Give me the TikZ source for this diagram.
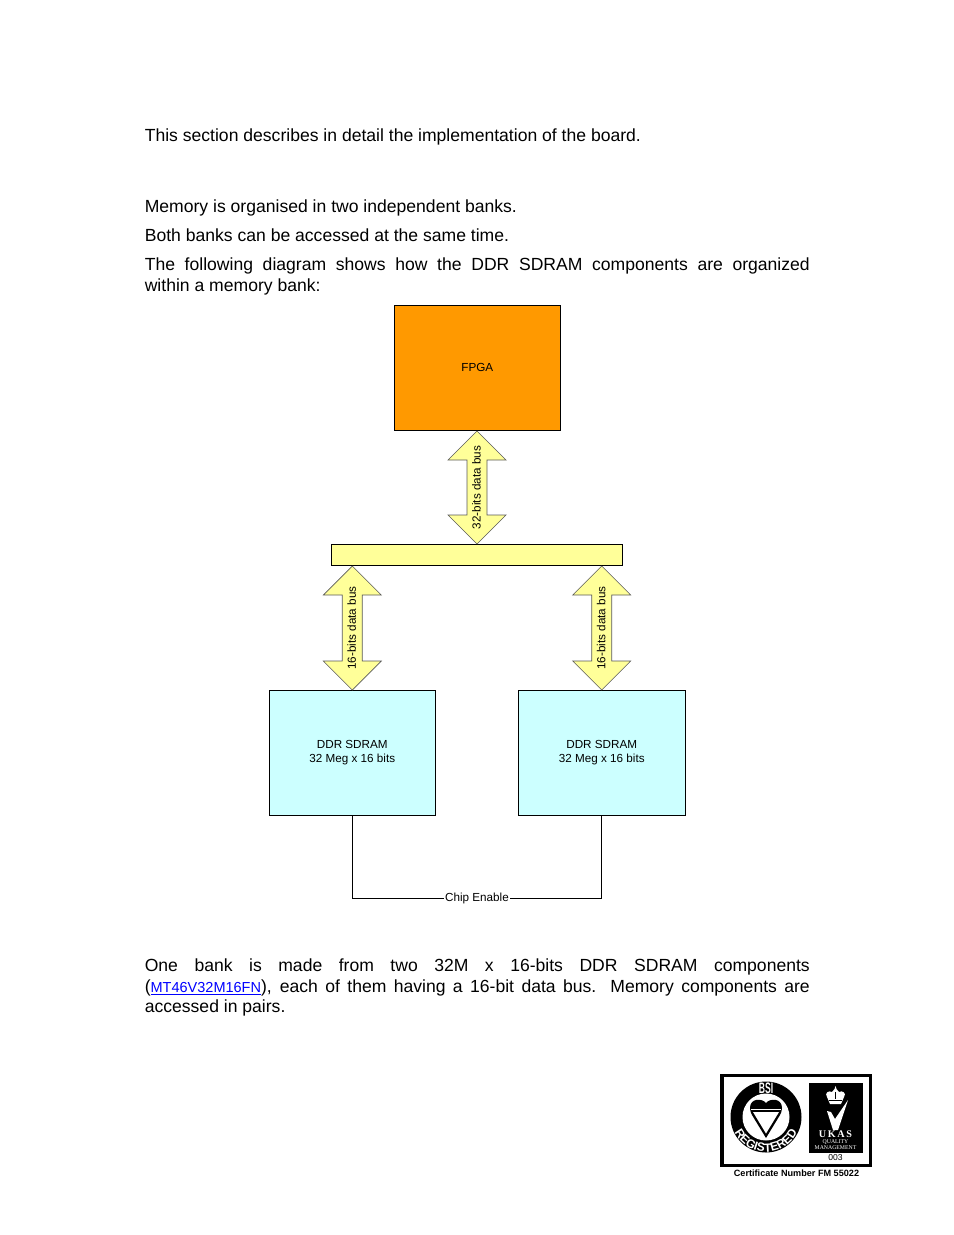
\documentclass[tikz,border=0pt]{standalone}
\usepackage{fontspec}
\setmainfont{Liberation Sans}
\newfontfamily\logoserif{Liberation Serif}
\usetikzlibrary{decorations.text}
\definecolor{fpgaorange}{HTML}{FF9900}
\definecolor{busyellow}{HTML}{FFFF99}
\definecolor{ddrcyan}{HTML}{CCFFFF}
\definecolor{linkblue}{HTML}{0000FF}
\tikzset{
  x=0.6415pt,y=-0.6415pt,
  bodytext/.style={anchor=north west,inner sep=0pt,text width=426.6pt,align=justify,font=\fontsize{11.27}{13.45}\selectfont},
  blockbox/.style={draw=black,line width=0.55pt,anchor=north west,inner sep=0pt,align=center,font=\fontsize{7.5}{9}\selectfont},
  buslabel/.style={rotate=90,inner sep=0pt,font=\fontsize{7.5}{9}\selectfont},
  cetext/.style={inner sep=0.6pt,font=\fontsize{7.5}{9}\selectfont},
  whitefill/.style={fill=white,draw=none}
}
% x centre, top tip, bottom tip, node name, label
\newcommand{\busarrow}[5]{%
  \draw[fill=busyellow,draw=black!65,line width=0.4pt]
    (#1,#2) -- (#1+29,#2+29) -- (#1+10,#2+29) -- (#1+10,#3-29) -- (#1+29,#3-29)
    -- (#1,#3) -- (#1-29,#3-29) -- (#1-10,#3-29) -- (#1-10,#2+29) -- (#1-29,#2+29) -- cycle;
  \node[buslabel] (#4) at (#1-0.5,{(#2+#3)/2}) {#5};
}
\begin{document}
\begin{tikzpicture}
\useasboundingbox (0,0) rectangle (954,1235);

\node[bodytext] (p1) at (144.5,128) {This section describes in detail the implementation of the board.};
\node[bodytext] (p2) at (144.5,199) {Memory is organised in two independent banks.};
\node[bodytext] (p3) at (144.5,228) {Both banks can be accessed at the same time.};
\node[bodytext] (p4) at (144.5,257) {The following diagram shows how the DDR SDRAM components are organized\linebreak within a memory bank:};
\node[bodytext] (p5) at (144.5,958) {One bank is made from two 32M x 16-bits DDR SDRAM components\linebreak ({\fontsize{9.3}{13.45}\selectfont\color{linkblue}\underline{MT46V32M16FN}}), each of them having a 16-bit data bus. Memory components are\linebreak accessed in pairs.};

% boxes
\node[blockbox,fill=fpgaorange,minimum width=106.3pt,minimum height=80pt] (fpga) at (394,305) {FPGA};
\node[blockbox,fill=busyellow,minimum width=186.6pt,minimum height=13.3pt] (bar) at (331,544) {};
\node[blockbox,fill=ddrcyan,minimum width=106.3pt,minimum height=80pt] (ddra) at (269,690) {DDR SDRAM\\32 Meg x 16 bits};
\node[blockbox,fill=ddrcyan,minimum width=106.9pt,minimum height=80pt] (ddrb) at (518,690) {DDR SDRAM\\32 Meg x 16 bits};

% bus arrows
\busarrow{477}{431}{544}{busa}{32-bits data bus}
\busarrow{352.3}{566}{690}{busb}{16-bits data bus}
\busarrow{601.7}{566}{690}{busc}{16-bits data bus}

% chip enable
\node[cetext] (ce) at (477,898) {Chip Enable};
\draw[line width=0.55pt] (ddra.south) |- (ce.west);
\draw[line width=0.55pt] (ddrb.south) |- (ce.east);

% logo
\draw[black,line width=2pt] (722,1075.5) rectangle (870.5,1165.5);
\fill[black] (766,1117) circle (35.5);
\fill[white] (766,1117) circle (23.5);
% heart with triangle
\fill[black] (766,1103) .. controls (762,1098) and (750,1098) .. (750,1108) .. controls (750,1111) and (751,1113) .. (752,1115) -- (766,1138) -- (780,1115) .. controls (781,1113) and (782,1111) .. (782,1108) .. controls (782,1098) and (770,1098) .. (766,1103) -- cycle;
\path[whitefill] (751,1108.5) rectangle (781,1110);
\path[whitefill] (753,1112) -- (779,1112) -- (766,1133.5) -- cycle;
\node[inner sep=0pt,text=white,font=\bfseries\fontsize{6.5}{8}\selectfont,yscale=1.5,xscale=0.85] (bsi) at (766,1088.5) {BSI};
\path[postaction={decorate,decoration={text along path,text align=center,
  text={|\bfseries\fontsize{7.7}{8}\selectfont\color{white}|R{}E{}G{}I{}S{}T{}E{}R{}E{}D}}}]
  (733.5,1130) arc[start angle=202,end angle=338,radius=35,y radius=-35];
\fill[black] (809,1083) rectangle (862.5,1152.5);
\node[inner sep=0pt,text=white,font=\logoserif\bfseries\fontsize{6.5}{7}\selectfont] (ukas) at (835.5,1134) {U\,K\,A\,S};
\node[inner sep=0pt,text=white,align=center,font=\logoserif\fontsize{3.7}{3.9}\selectfont] (qm) at (835.5,1144.5) {QUALITY\\MANAGEMENT};
% tick
\path[fill=white] (827,1111) -- (831,1112) -- (835,1119) -- (848,1100) -- (838,1130) -- (833,1130) -- cycle;
% crown
\path[fill=white] (827,1097) .. controls (824,1093) and (829,1090) .. (832,1092) -- (834.5,1089) -- (835.5,1086) -- (836.5,1089) -- (839,1092) .. controls (842,1090) and (847,1093) .. (844,1097) -- (841,1104) -- (830,1104) -- cycle;
\draw[black,line width=0.4pt] (829,1100) -- (842,1100) (835.5,1092) -- (835.5,1099);
\node[inner sep=0pt,font=\fontsize{5.5}{6}\selectfont] (cert) at (835.5,1158) {003};
\node[inner sep=0pt,font=\bfseries\fontsize{5.85}{7}\selectfont] (certn) at (796.5,1173) {Certificate Number FM 55022};
\end{tikzpicture}
\end{document}
